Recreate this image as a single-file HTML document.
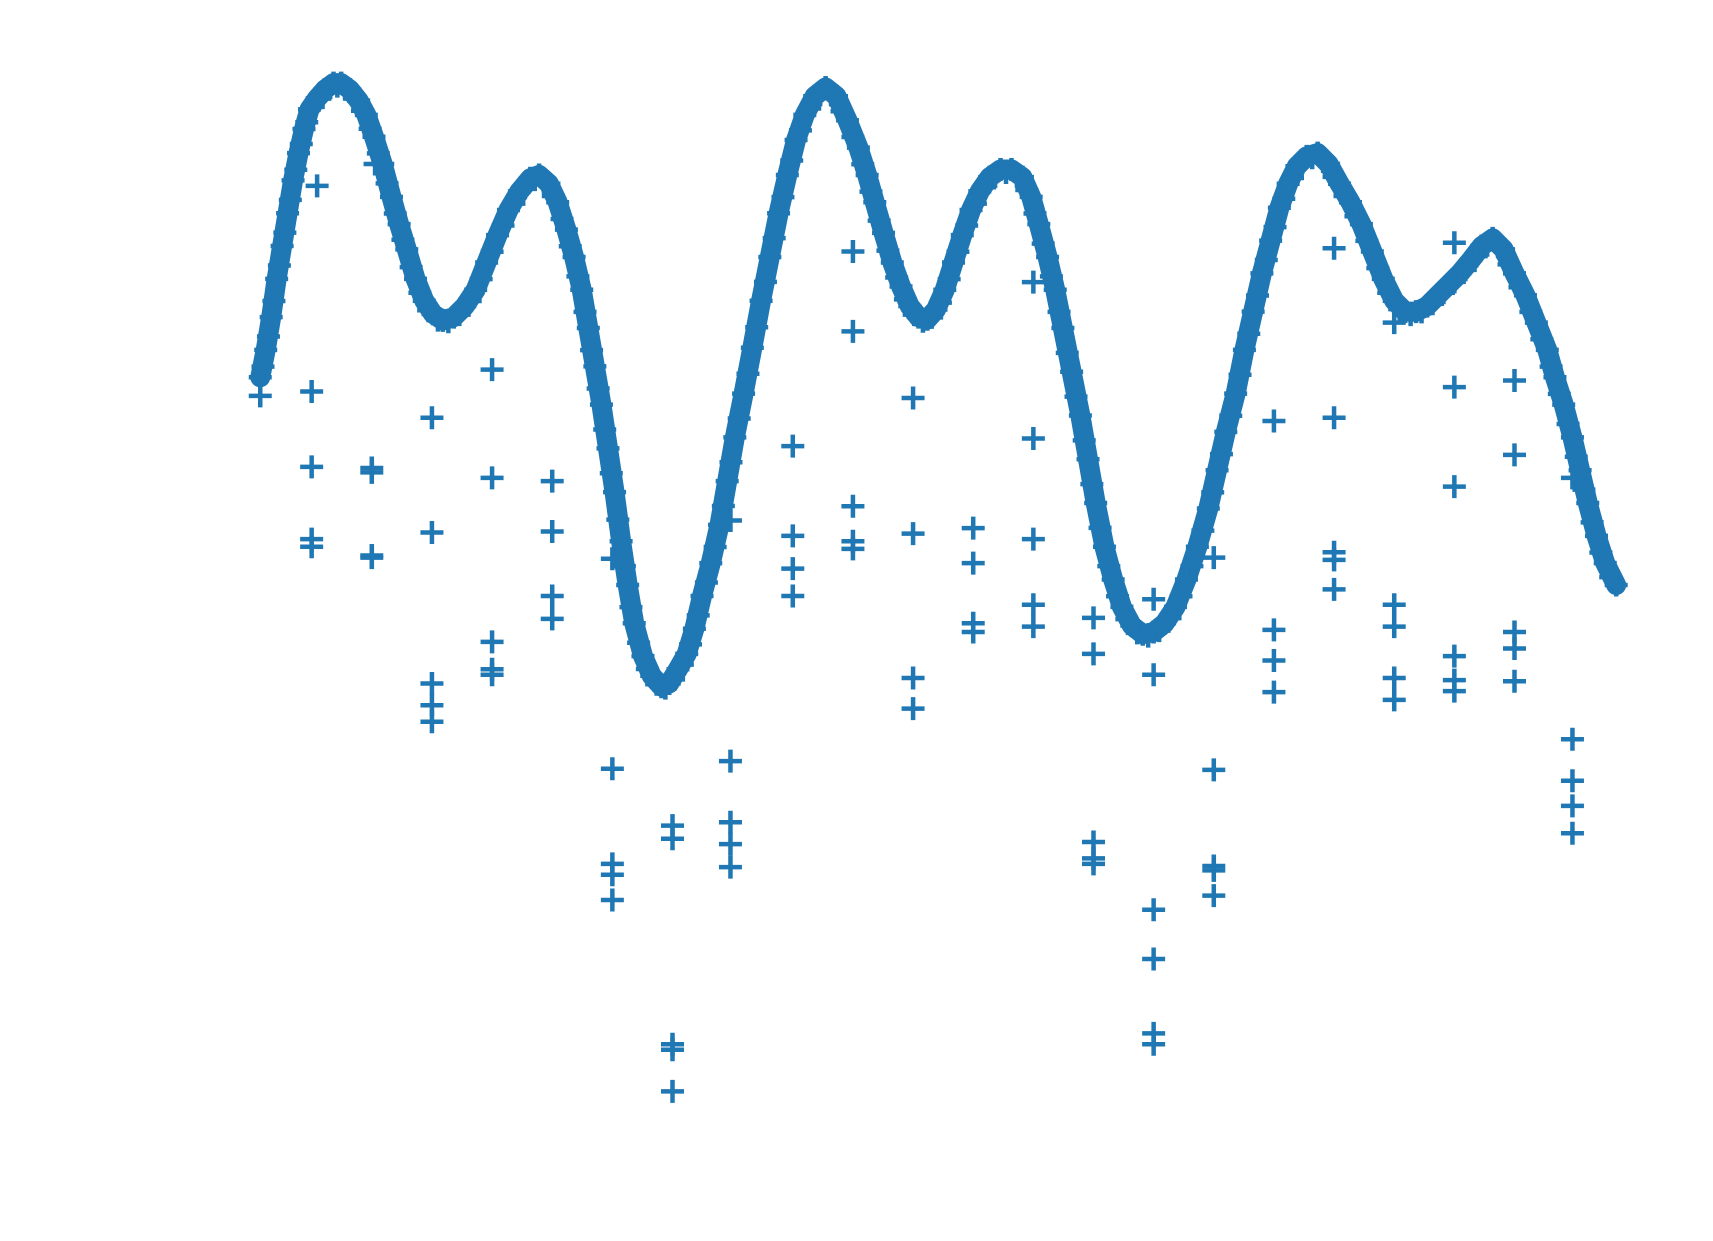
<!DOCTYPE html>
<html>
<head>
<meta charset="utf-8">
<style>
  html,body{margin:0;padding:0;background:#fff;}
  svg{display:block;}
</style>
</head>
<body>
<svg id="chart" width="1713" height="1241" viewBox="0 0 1713 1241" xmlns="http://www.w3.org/2000/svg">
  <rect width="1713" height="1241" fill="#fff"/>
  <g id="band"></g>
  <g id="marks"></g>
</svg>
<script>
// Main curve samples (x, y) in plot units
const curveX = [238,243,248,253,258,263,268,273,278,283,290,297,305,312,320,328,335,342,350,358,365,372,380,388,396,405,415,425,435,445,455,465,475,485,493,502,510,518,525,532,538,544,550,556,562,568,574,580,588,596,605,612,620,628,635,642,650,658,665,672,680,688,696,704,712,720,728,736,745,755,765,775,785,793,800,808,816,824,832,840,848,856,864,872,880,888,896,905,915,925,935,943,950,958,965,972,980,988,995,1002,1010,1018,1026,1035,1045,1055,1065,1075,1085,1095,1105,1113,1121,1130,1138,1146,1154,1162,1170,1178,1186,1195,1205,1215,1225,1235,1245,1255,1265,1275,1285,1295,1305,1315,1325,1335,1345,1355,1365,1375,1385,1395,1405,1415,1422,1430,1438,1445,1452,1460,1468,1478];
const curveY = [345,320,290,255,225,195,165,140,118,100,90,82,76,76,82,92,105,125,150,180,205,228,255,275,287,293,290,280,265,240,215,192,175,163,160,168,185,210,235,265,300,335,370,410,450,495,535,570,600,618,628,625,612,598,575,545,515,480,440,400,360,318,275,235,195,160,128,105,88,80,88,110,135,160,185,213,240,262,280,290,292,283,265,240,215,192,175,162,155,155,162,180,205,235,265,300,340,380,420,460,500,530,555,572,580,578,570,555,530,500,465,430,395,360,320,285,250,220,190,168,152,143,140,150,168,185,205,230,255,275,285,285,280,270,260,250,238,225,218,228,250,270,295,320,345,370,400,430,460,490,515,535];

// Scattered outlier groups: x position and vertical values
const outlierX = [238,285,340,395,450,505,560,615,668,725,780,835,890,945,1000,1055,1110,1165,1220,1275,1330,1385,1438,290,343];
const outlierY = [
  [362],
  [358,427,493,500],
  [428,432,508,510],
  [382,487,625,645,660],
  [338,437,587,612,617],
  [440,486,545,566],
  [511,703,790,800,823],
  [755,767,955,960,998],
  [476,696,752,772,793],
  [408,490,520,545],
  [230,303,463,495,502],
  [364,488,620,648],
  [483,515,570,578],
  [258,401,493,553,573],
  [565,598,770,785,790],
  [548,617,832,877,945,955],
  [510,704,792,796,819],
  [385,576,604,633],
  [227,382,505,512,539],
  [295,553,573,620,640],
  [222,354,445,600,622,632],
  [348,416,578,593,623],
  [437,676,714,737,762],
  [170],
  [150]
];

const COLOR = '#1f77b4';
const K = 1.0935;
const sx = v => v * K;          // x axis function
const sy = v => v * K;          // y axis function (top-down)
const NS = 'http://www.w3.org/2000/svg';
const band = document.getElementById('band');
const marks = document.getElementById('marks');

const pl = document.createElementNS(NS, 'polyline');
pl.setAttribute('points', curveX.map((x, i) => sx(x) + ',' + sy(curveY[i])).join(' '));
pl.setAttribute('fill', 'none');
pl.setAttribute('stroke', COLOR);
pl.setAttribute('stroke-width', '20');
pl.setAttribute('stroke-linejoin', 'round');
pl.setAttribute('stroke-linecap', 'round');


band.appendChild(pl);

function plus(cx, cy, name) {
  const p = document.createElementNS(NS, 'path');
  const h = 11.5;
  p.setAttribute('d', `M${cx - h} ${cy}H${cx + h}M${cx} ${cy - h}V${cy + h}`);
  p.setAttribute('stroke', COLOR);
  p.setAttribute('stroke-width', '4.5');
  p.setAttribute('fill', 'none');
  
  
  marks.appendChild(p);
}

curveX.forEach((x, i) => {
  plus(sx(x), sy(curveY[i]), 'curve-point');
  if (i < curveX.length - 1) {
    plus((sx(x) + sx(curveX[i + 1])) / 2, (sy(curveY[i]) + sy(curveY[i + 1])) / 2 + 3, 'curve-point');
  }
});

outlierX.forEach((x, i) => {
  outlierY[i].forEach(y => plus(sx(x), sy(y), 'outlier-point'));
});
</script>
</body>
</html>
